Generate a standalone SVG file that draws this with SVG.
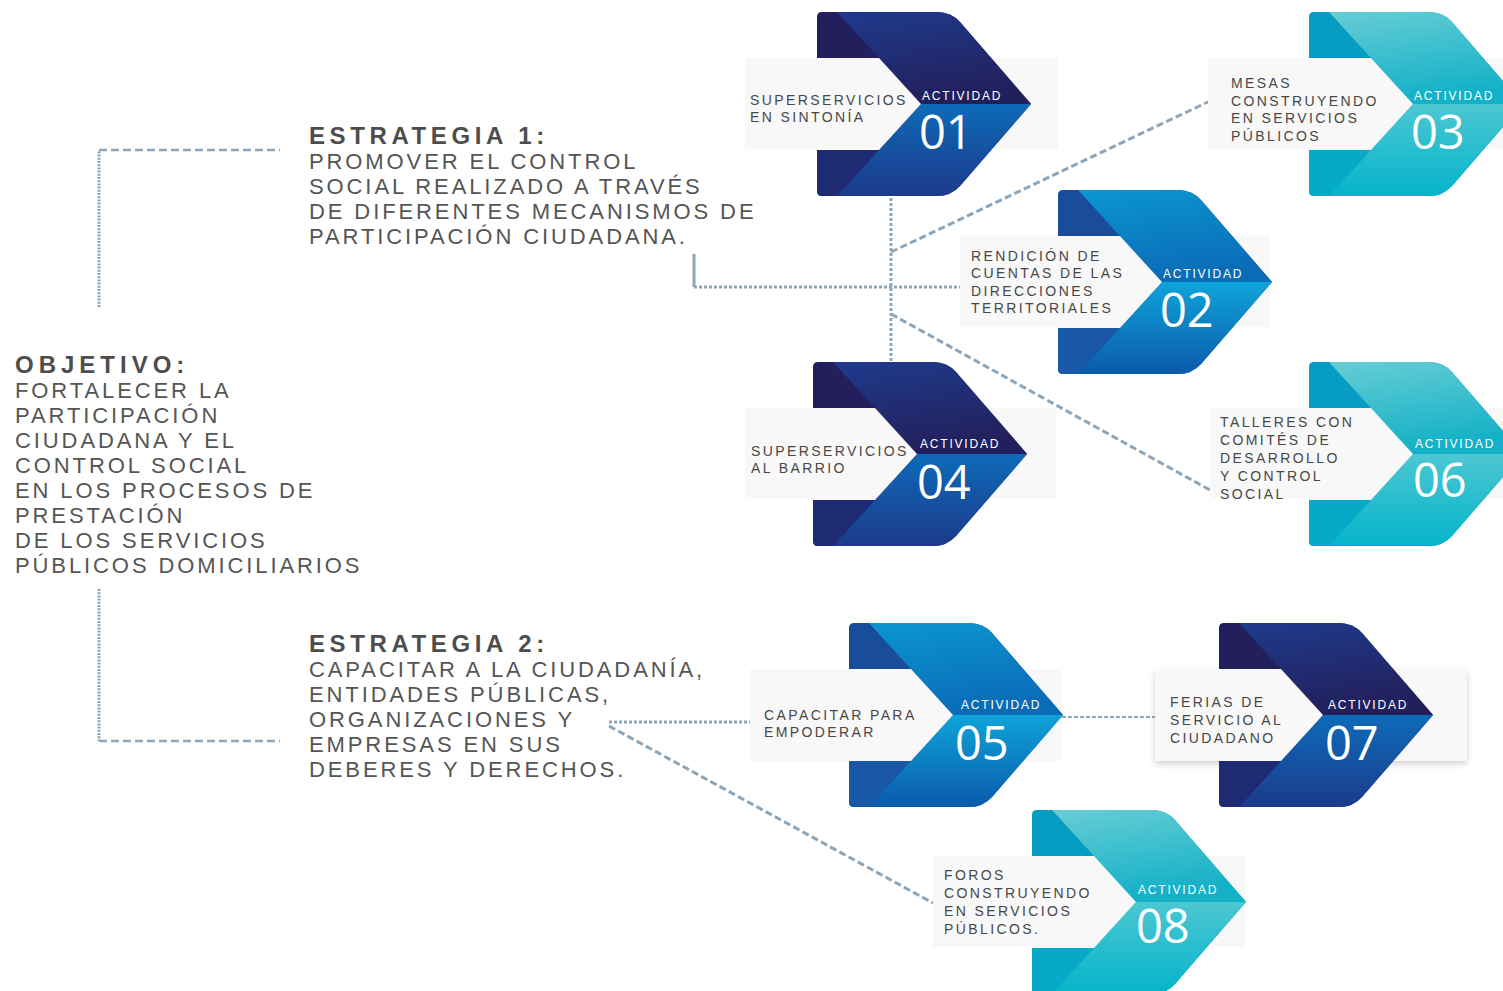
<svg xmlns="http://www.w3.org/2000/svg" xmlns:xlink="http://www.w3.org/1999/xlink" width="1503" height="991" viewBox="0 0 1503 991">
<style>
.hd{font-family:"Liberation Sans",Arial,sans-serif;font-weight:bold;font-size:24px;fill:#4d4d4d;letter-spacing:4.6px}
.bd{font-family:"Liberation Sans",Arial,sans-serif;font-size:22px;fill:#555555;letter-spacing:2.9px}
.lb{font-family:"Liberation Sans",Arial,sans-serif;font-size:14px;fill:#474747;letter-spacing:2.4px}
.ac{font-family:"Liberation Sans",Arial,sans-serif;font-size:12px;fill:#ffffff;letter-spacing:1.8px}
.nm{font-family:"Open Sans","Liberation Sans",sans-serif;font-weight:400;font-size:47px;fill:#ffffff}
.box{fill:#f8f8f8}
.ln{fill:none;stroke:#8ba5bb;stroke-width:3}
.dot{stroke-dasharray:3 2}
.dash{stroke-dasharray:7 3.5}
.brh{stroke-width:2.5;stroke-dasharray:8 4}
.brv{stroke-width:3;stroke-dasharray:2 1.2}
.thin{stroke-width:2;stroke-dasharray:4 2}
.navy-base{fill:#221f5c}.navy-up{fill:url(#gNavyUp)}.navy-lo{fill:url(#gNavyLo)}.navy-bl{fill:#1e2b72}
.blue-base{fill:#1a4c9c}.blue-up{fill:url(#gBlueUp)}.blue-lo{fill:url(#gBlueLo)}.blue-bl{fill:#1858a6}
.teal-base{fill:#079cc2}.teal-up{fill:url(#gTealUp)}.teal-lo{fill:url(#gTealLo)}.teal-bl{fill:#06aac8}
</style>
<defs>
<linearGradient id="gNavyUp" x1="0" y1="0" x2="0.3" y2="1"><stop offset="0" stop-color="#1f3a8c"/><stop offset="1" stop-color="#22205c"/></linearGradient>
<linearGradient id="gNavyLo" x1="0" y1="0" x2="0" y2="1"><stop offset="0" stop-color="#0d6bb9"/><stop offset="1" stop-color="#1c3a8b"/></linearGradient>
<linearGradient id="gBlueUp" x1="0" y1="0" x2="0.3" y2="1"><stop offset="0" stop-color="#0b96d1"/><stop offset="1" stop-color="#0a6cb7"/></linearGradient>
<linearGradient id="gBlueLo" x1="0" y1="0" x2="0" y2="1"><stop offset="0" stop-color="#0ea4d9"/><stop offset="1" stop-color="#0b5aab"/></linearGradient>
<linearGradient id="gTealUp" x1="0" y1="0" x2="0.3" y2="1"><stop offset="0" stop-color="#66cdd5"/><stop offset="1" stop-color="#13b1c7"/></linearGradient>
<linearGradient id="gTealLo" x1="0" y1="0" x2="0" y2="1"><stop offset="0" stop-color="#4cc7d2"/><stop offset="1" stop-color="#05b4cb"/></linearGradient>
<filter id="sh" x="-10%" y="-20%" width="120%" height="150%"><feDropShadow dx="0" dy="3" stdDeviation="3" flood-color="#000" flood-opacity="0.18"/></filter>
<path id="chev" d="M0,5 Q0,0 5,0 H120 Q134,0 143,10 L214,92 L143,174 Q134,184 120,184 H5 Q0,184 0,179 Z"/>
<path id="bl" d="M0,138 H62 L20,184 H5 Q0,184 0,179 Z"/>
<path id="up" d="M20,0 H120 Q134,0 143,10 L214,92 H104 Z"/>
<path id="lo" d="M104,92 H214 L143,174 Q134,184 120,184 H20 Z"/>
<path id="notch" d="M-1,46 H62 L104,92 L62,138 H-1 Z"/>
</defs>
<rect width="1503" height="991" fill="#ffffff"/>

<g id="connectors">
<path class="ln brv" d="M99,307 V150"/>
<path class="ln brh" d="M99,150 H280"/>
<path class="ln brv" d="M99,589 V741"/>
<path class="ln brh" d="M99,741 H280"/>
<path class="ln" d="M694,254 V287"/>
<path class="ln dot" d="M694,287 H960"/>
<path class="ln dot" d="M891,198 V361"/>
<path class="ln dash" d="M891,252 L1210,101"/>
<path class="ln dash" d="M891,314 L1210,490"/>
<path class="ln dot" d="M609,722 H750"/>
<path class="ln dash" d="M609,726 L933,903"/>
<path class="ln thin" d="M1062,717 H1155"/>
</g>

<g id="objetivo">
<text class="hd" x="15" y="373" style="letter-spacing:5px">OBJETIVO:</text>
<text class="bd" x="15" y="398">FORTALECER LA</text>
<text class="bd" x="15" y="423">PARTICIPACIÓN</text>
<text class="bd" x="15" y="448">CIUDADANA Y EL</text>
<text class="bd" x="15" y="473">CONTROL SOCIAL</text>
<text class="bd" x="15" y="498">EN LOS PROCESOS DE</text>
<text class="bd" x="15" y="523">PRESTACIÓN</text>
<text class="bd" x="15" y="548">DE LOS SERVICIOS</text>
<text class="bd" x="15" y="573">PÚBLICOS DOMICILIARIOS</text>
</g>

<g id="estrategia1">
<text class="hd" x="309" y="144">ESTRATEGIA 1:</text>
<text class="bd" x="309" y="169">PROMOVER EL CONTROL</text>
<text class="bd" x="309" y="194">SOCIAL REALIZADO A TRAVÉS</text>
<text class="bd" x="309" y="219">DE DIFERENTES MECANISMOS DE</text>
<text class="bd" x="309" y="244">PARTICIPACIÓN CIUDADANA.</text>
</g>

<g id="estrategia2">
<text class="hd" x="309" y="652">ESTRATEGIA 2:</text>
<text class="bd" x="309" y="677">CAPACITAR A LA CIUDADANÍA,</text>
<text class="bd" x="309" y="702">ENTIDADES PÚBLICAS,</text>
<text class="bd" x="309" y="727">ORGANIZACIONES Y</text>
<text class="bd" x="309" y="752">EMPRESAS EN SUS</text>
<text class="bd" x="309" y="777">DEBERES Y DERECHOS.</text>
</g>

<g id="act01">
<rect class="box" x="745" y="58" width="313" height="91"/>
<g transform="translate(817,12)">
<use href="#chev" class="navy-base"/><use href="#bl" class="navy-bl"/><use href="#up" class="navy-up"/><use href="#lo" class="navy-lo"/><use href="#notch" class="box"/>
<text class="ac" x="105" y="88">ACTIVIDAD</text><text class="nm" x="102" y="137">01</text>
</g>
<text class="lb" x="750" y="105">SUPERSERVICIOS</text>
<text class="lb" x="750" y="122">EN SINTONÍA</text>
</g>

<g id="act02">
<rect class="box" x="960" y="236" width="310" height="91"/>
<g transform="translate(1058,190)">
<use href="#chev" class="blue-base"/><use href="#bl" class="blue-bl"/><use href="#up" class="blue-up"/><use href="#lo" class="blue-lo"/><use href="#notch" class="box"/>
<text class="ac" x="105" y="88">ACTIVIDAD</text><text class="nm" x="102" y="137">02</text>
</g>
<text class="lb" x="971" y="261">RENDICIÓN DE</text>
<text class="lb" x="971" y="278">CUENTAS DE LAS</text>
<text class="lb" x="971" y="296">DIRECCIONES</text>
<text class="lb" x="971" y="313">TERRITORIALES</text>
</g>

<g id="act03">
<rect class="box" x="1208" y="58" width="300" height="91"/>
<g transform="translate(1309,12)">
<use href="#chev" class="teal-base"/><use href="#bl" class="teal-bl"/><use href="#up" class="teal-up"/><use href="#lo" class="teal-lo"/><use href="#notch" class="box"/>
<text class="ac" x="105" y="88">ACTIVIDAD</text><text class="nm" x="102" y="137">03</text>
</g>
<text class="lb" x="1231" y="88">MESAS</text>
<text class="lb" x="1231" y="106">CONSTRUYENDO</text>
<text class="lb" x="1231" y="123">EN SERVICIOS</text>
<text class="lb" x="1231" y="141">PÚBLICOS</text>
</g>

<g id="act04">
<rect class="box" x="745" y="408" width="311" height="91"/>
<g transform="translate(813,362)">
<use href="#chev" class="navy-base"/><use href="#bl" class="navy-bl"/><use href="#up" class="navy-up"/><use href="#lo" class="navy-lo"/><use href="#notch" class="box"/>
<text class="ac" x="107" y="86">ACTIVIDAD</text><text class="nm" x="104" y="137">04</text>
</g>
<text class="lb" x="751" y="456">SUPERSERVICIOS</text>
<text class="lb" x="751" y="473">AL BARRIO</text>
</g>

<g id="act05">
<rect class="box" x="750" y="669" width="312" height="92"/>
<g transform="translate(849,623)">
<use href="#chev" class="blue-base"/><use href="#bl" class="blue-bl"/><use href="#up" class="blue-up"/><use href="#lo" class="blue-lo"/><use href="#notch" class="box"/>
<text class="ac" x="112" y="86">ACTIVIDAD</text><text class="nm" x="106" y="137">05</text>
</g>
<text class="lb" x="764" y="720">CAPACITAR PARA</text>
<text class="lb" x="764" y="737">EMPODERAR</text>
</g>

<g id="act06">
<rect class="box" x="1210" y="408" width="300" height="91"/>
<g transform="translate(1309,362)">
<use href="#chev" class="teal-base"/><use href="#bl" class="teal-bl"/><use href="#up" class="teal-up"/><use href="#lo" class="teal-lo"/><use href="#notch" class="box"/>
<text class="ac" x="106" y="86">ACTIVIDAD</text><text class="nm" x="104" y="135">06</text>
</g>
<text class="lb" x="1220" y="427">TALLERES CON</text>
<text class="lb" x="1220" y="445">COMITÉS DE</text>
<text class="lb" x="1220" y="463">DESARROLLO</text>
<text class="lb" x="1220" y="481">Y CONTROL</text>
<text class="lb" x="1220" y="499">SOCIAL</text>
</g>

<g id="act07">
<rect class="box" x="1155" y="669" width="312" height="92" filter="url(#sh)"/>
<g transform="translate(1219,623)">
<use href="#chev" class="navy-base"/><use href="#bl" class="navy-bl"/><use href="#up" class="navy-up"/><use href="#lo" class="navy-lo"/><use href="#notch" class="box"/>
<text class="ac" x="109" y="86">ACTIVIDAD</text><text class="nm" x="106" y="137">07</text>
</g>
<text class="lb" x="1170" y="707">FERIAS DE</text>
<text class="lb" x="1170" y="725">SERVICIO AL</text>
<text class="lb" x="1170" y="743">CIUDADANO</text>
</g>

<g id="act08">
<rect class="box" x="933" y="856" width="312" height="91"/>
<g transform="translate(1032,810)">
<use href="#chev" class="teal-base"/><use href="#bl" class="teal-bl"/><use href="#up" class="teal-up"/><use href="#lo" class="teal-lo"/><use href="#notch" class="box"/>
<text class="ac" x="106" y="84">ACTIVIDAD</text><text class="nm" x="104" y="133">08</text>
</g>
<text class="lb" x="944" y="880">FOROS</text>
<text class="lb" x="944" y="898">CONSTRUYENDO</text>
<text class="lb" x="944" y="916">EN SERVICIOS</text>
<text class="lb" x="944" y="934">PÚBLICOS.</text>
</g>
</svg>
